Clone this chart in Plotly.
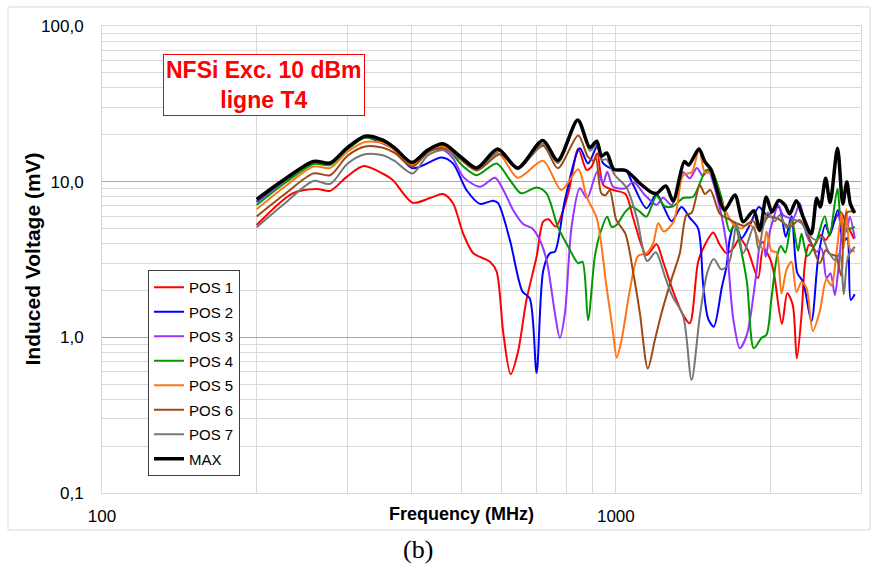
import plotly.graph_objects as go

# Induced voltage (mV) vs frequency (MHz) for seven probe positions and their envelope
freq_pos1 = [200, 235, 262, 278, 299, 323, 353, 368, 402, 435, 461, 482, 505, 528, 569, 586, 604, 624, 645, 670,
             701, 722, 739, 764, 808, 845, 877, 897, 920, 945, 988, 1044, 1081, 1147, 1200, 1236, 1293, 1352, 1393,
             1446, 1490, 1547, 1594, 1642, 1692, 1743, 1806, 1892, 1935, 1994, 2030, 2105, 2156, 2210, 2250, 2298,
             2332, 2374, 2428, 2505, 2562, 2688, 2740, 2790, 2908]
volt_pos1 = [5.27, 8.42, 8.97, 8.73, 10.7, 12.6, 11.2, 10.25, 7.33, 7.85, 8.33, 7.27, 4.6, 3.47, 3.06, 2.65, 1.06,
             0.58, 0.806, 1.74, 3.29, 5.53, 5.74, 5.15, 8.42, 16.3, 11.9, 12.5, 15.2, 9.52, 8.84, 8.33, 5.82, 3.38,
             3.96, 3.06, 1.97, 1.39, 1.23, 3.06, 3.92, 4.71, 3.92, 3.47, 3.73, 4.33, 3.64, 2.40, 3.73, 3.22, 2.6,
             1.22, 1.92, 1.61, 0.73, 1.39, 2.92, 3.92, 3.86, 4.55, 4.22, 5.96, 6.39, 5.68, 4.28]

freq_pos2 = [200, 227, 258, 278, 300, 325, 352, 371, 402, 458, 482, 512, 544, 577, 590, 622, 658, 680, 701, 722,
             744, 761, 796, 851, 883, 920, 945, 996, 1044, 1074, 1147, 1200, 1236, 1284, 1342, 1393, 1446, 1479,
             1512, 1551, 1608, 1642, 1667, 1708, 1756, 1823, 1898, 1971, 2075, 2141, 2197, 2254, 2314, 2403, 2475,
             2556, 2608, 2704, 2769, 2820, 2865, 2917]
volt_pos2 = [7.4, 10.2, 13.3, 13.0, 16.3, 19.3, 17.6, 16.0, 12.2, 14.3, 13.1, 8.84, 7.2, 7.55, 7.27, 4.22, 1.97,
             1.78, 0.59, 2.67, 3.47, 3.55, 7.63, 16.4, 13.1, 16.8, 13.1, 11.9, 11.9, 10.0, 6.75, 8.33, 7.0, 5.57,
             6.87, 5.86, 5.0, 2.17, 1.32, 1.17, 2.1, 2.85, 4.33, 5.45, 4.33, 5.27, 6.87, 6.11, 6.87, 4.42, 6.0, 2.6,
             2.27, 1.27, 3.19, 5.27, 4.55, 6.58, 4.10, 4.35, 1.74, 1.89]

freq_pos3 = [200, 227, 258, 278, 300, 325, 352, 371, 401, 431, 461, 482, 505, 544, 582, 604, 631, 660, 688, 706,
             733, 761, 778, 796, 820, 851, 879, 920, 945, 962, 988, 1044, 1081, 1139, 1200, 1236, 1285, 1352, 1393,
             1438, 1477, 1510, 1594, 1642, 1692, 1743, 1799, 1878, 1906, 1935, 1958, 1994, 2023, 2070, 2116, 2213,
             2280, 2350, 2406, 2460, 2513, 2570, 2616, 2668, 2707, 2734, 2769, 2810, 2853, 2917]
volt_pos3 = [7.5, 10.2, 13.3, 13.0, 16.3, 19.2, 18.0, 16.2, 13.0, 15.8, 16.0, 14.1, 10.7, 9.28, 10.6, 8.84, 6.58,
             5.35, 5.0, 4.44, 3.14, 1.43, 0.99, 1.43, 5.13, 9.07, 7.85, 11.6, 9.77, 11.6, 9.28, 9.07, 10.0, 8.21,
             7.09, 7.87, 7.09, 11.5, 10.5, 12.25, 10.9, 11.9, 6.75, 3.92, 1.32, 0.85, 1.04, 2.62, 3.86, 4.11, 3.29,
             4.78, 5.68, 7.09, 6.11, 5.82, 7.27, 4.55, 3.92, 3.55, 3.73, 2.4, 2.58, 1.87, 2.65, 3.73, 5.27, 4.78,
             5.96, 4.33]

freq_pos4 = [200, 227, 258, 278, 300, 325, 352, 371, 402, 431, 461, 505, 536, 586, 622, 654, 701, 733, 771, 808,
             845, 861, 883, 910, 931, 962, 981, 1003, 1044, 1073, 1113, 1147, 1200, 1245, 1293, 1352, 1414, 1501,
             1544, 1606, 1667, 1705, 1743, 1799, 1856, 1920, 1964, 2007, 2057, 2094, 2137, 2200, 2263, 2298, 2358,
             2450, 2550, 2604, 2700, 2758, 2853, 2917]
volt_pos4 = [7.09, 9.8, 13.0, 12.8, 16.0, 19.2, 18.0, 16.0, 12.8, 15.5, 17.0, 12.5, 11.0, 13.1, 10.25, 8.42, 9.18,
             8.42, 5.13, 3.82, 2.99, 3.06, 1.29, 3.29, 4.6, 5.96, 5.13, 5.27, 6.42, 6.9, 6.42, 5.96, 8.09, 6.95,
             6.95, 7.85, 8.0, 11.9, 11.4, 7.87, 4.78, 5.35, 3.97, 2.27, 0.85, 0.99, 1.04, 1.74, 3.26, 3.86, 3.5,
             5.68, 3.6, 4.62, 3.33, 4.06, 6.0, 4.48, 9.0, 5.2, 4.99, 5.13]

freq_pos5 = [200, 227, 258, 278, 300, 325, 352, 371, 402, 431, 461, 497, 536, 590, 644, 722, 783, 845, 877, 918,
             959, 988, 1004, 1026, 1065, 1105, 1147, 1182, 1209, 1240, 1297, 1352, 1406, 1452, 1490, 1533, 1594,
             1692, 1758, 1806, 1855, 1935, 1964, 2009, 2054, 2101, 2148, 2197, 2247, 2298, 2350, 2417, 2494, 2570,
             2628, 2688, 2748, 2777, 2810, 2860, 2917]
volt_pos5 = [6.65, 9.3, 12.5, 12.25, 15.5, 18.0, 17.7, 16.0, 12.8, 15.5, 16.8, 14.1, 12.2, 15.2, 10.6, 13.6, 8.84,
             12.0, 8.0, 5.82, 2.12, 1.06, 0.74, 0.96, 2.02, 3.33, 3.47, 4.02, 5.41, 4.78, 5.57, 11.0, 11.5, 16.3,
             11.5, 11.3, 7.87, 5.35, 5.0, 5.41, 5.0, 3.64, 4.78, 3.6, 3.52, 1.92, 2.71, 3.06, 1.95, 2.27, 2.07, 1.1,
             1.47, 2.36, 2.15, 3.49, 6.29, 3.73, 6.64, 3.64, 3.56]

freq_pos6 = [200, 227, 258, 278, 300, 325, 352, 371, 402, 431, 461, 497, 536, 595, 644, 722, 771, 845, 882, 906,
             915, 937, 956, 973, 1002, 1044, 1081, 1113, 1154, 1191, 1227, 1282, 1332, 1372, 1404, 1457, 1490, 1527,
             1594, 1654, 1717, 1782, 1848, 1906, 1976, 2066, 2180, 2280, 2403, 2494, 2562, 2608, 2679, 2746, 2810,
             2917]
volt_pos6 = [5.98, 8.33, 11.3, 11.0, 14.6, 16.8, 16.5, 15.3, 12.5, 15.5, 16.4, 14.0, 11.8, 15.0, 12.25, 17.0, 12.2,
             19.8, 14.5, 13.6, 14.2, 8.42, 8.21, 8.84, 5.68, 4.62, 2.6, 1.45, 0.63, 0.96, 1.43, 2.34, 3.47, 6.11,
             6.29, 9.52, 8.33, 8.84, 6.21, 5.77, 5.41, 5.2, 5.6, 4.78, 5.93, 5.8, 5.13, 5.68, 4.02, 2.99, 3.64, 3.43,
             3.33, 2.48, 6.29, 6.45]

freq_pos7 = [200, 227, 258, 278, 300, 325, 352, 371, 402, 431, 461, 497, 536, 595, 644, 722, 771, 843, 890, 918,
             938, 959, 996, 1049, 1097, 1151, 1196, 1245, 1285, 1352, 1404, 1457, 1507, 1551, 1605, 1654, 1692, 1717,
             1770, 1855, 1896, 1935, 1976, 2039, 2085, 2151, 2213, 2298, 2366, 2457, 2513, 2588, 2668, 2728, 2777,
             2831, 2917]
volt_pos7 = [5.1, 7.27, 10.1, 9.68, 13.0, 15.0, 14.8, 13.6, 11.3, 14.8, 16.0, 14.3, 12.0, 15.8, 12.0, 17.5, 13.2,
             24.5, 15.8, 17.2, 13.8, 13.9, 11.0, 9.18, 5.96, 3.09, 3.52, 2.48, 1.87, 1.37, 0.533, 1.37, 2.62, 3.19,
             2.73, 2.92, 4.02, 5.41, 3.47, 5.13, 3.64, 5.13, 6.33, 5.57, 6.11, 5.06, 5.68, 5.41, 4.6, 4.22, 4.44,
             3.6, 3.14, 3.47, 1.89, 3.3, 3.82]

freq_max = [200, 227, 258, 278, 300, 325, 352, 371, 401, 431, 461, 497, 536, 589, 644, 721, 771, 843, 890, 918,
            938, 960, 991, 1046, 1113, 1176, 1202, 1251, 1293, 1359, 1386, 1451, 1490, 1533, 1570, 1628, 1705, 1770,
            1855, 1906, 1962, 2012, 2075, 2132, 2180, 2245, 2315, 2400, 2460, 2500, 2560, 2612, 2700, 2765, 2815,
            2860, 2917]
volt_max = [7.7, 10.4, 13.5, 13.2, 16.5, 19.6, 18.5, 16.5, 13.3, 16.0, 17.5, 14.6, 12.25, 16.2, 12.25, 18.4, 13.7,
            24.9, 16.6, 18.2, 14.6, 15.3, 12.0, 11.8, 9.77, 8.5, 8.42, 9.38, 7.52, 13.45, 12.8, 16.2, 13.45, 11.9,
            9.07, 6.58, 8.21, 5.53, 6.51, 4.9, 7.97, 6.39, 7.57, 7.09, 6.21, 7.54, 5.93, 4.62, 7.82, 6.87, 10.5,
            7.35, 16.4, 7.2, 9.95, 7.2, 6.29]

series_names = ["POS 1", "POS 2", "POS 3", "POS 4", "POS 5", "POS 6", "POS 7", "MAX"]
series_freqs = [freq_pos1, freq_pos2, freq_pos3, freq_pos4, freq_pos5, freq_pos6, freq_pos7, freq_max]
series_volts = [volt_pos1, volt_pos2, volt_pos3, volt_pos4, volt_pos5, volt_pos6, volt_pos7, volt_max]
series_colors = ["#ff0000", "#0000ff", "#9933ff", "#009900", "#ff7518", "#9c4a14", "#767676", "#000000"]
series_widths = [2, 2, 2, 2, 2, 2, 2, 3.5]

x_ticks = [100, 1000]
x_ticklabels = ["100", "1000"]
x_minor = [200, 300, 400, 500, 600, 700, 800, 900, 2000, 3000]
y_ticks = [0.1, 1, 10, 100]
y_ticklabels = ["0,1", "1,0", "10,0", "100,0"]
y_minor = [m * d for d in (0.1, 1, 10) for m in range(2, 10)]

SANS = "Liberation Sans, Arial, sans-serif"

fig = go.Figure()
for name, fx, vy, col, w in zip(series_names, series_freqs, series_volts, series_colors, series_widths):
    fig.add_trace(go.Scatter(
        x=fx, y=vy, name=name, mode="lines", legendgroup=name,
        line=dict(color=col, width=w, shape="spline", smoothing=0.8),
    ))

fig.update_layout(
    width=878, height=566,
    margin=dict(l=102, r=17, t=26, b=73),
    paper_bgcolor="white", plot_bgcolor="white",
    font=dict(family=SANS, color="#000000"),
    showlegend=True,
    legend=dict(
        x=0.0606, y=0.4775, xanchor="left", yanchor="top",
        bgcolor="white", bordercolor="#404040", borderwidth=1,
        font=dict(size=15, family=SANS, color="#000000"),
        tracegroupgap=2, itemwidth=30,
    ),
)

fig.update_xaxes(
    type="log", range=[2, 3.4771],
    tickvals=x_ticks, ticktext=x_ticklabels, ticks="",
    tickfont=dict(size=17, family=SANS), ticklabelstandoff=8,
    showgrid=True, gridcolor="#d9d9d9", gridwidth=1,
    minor=dict(tickvals=x_minor, showgrid=True, gridcolor="#d9d9d9", gridwidth=1, ticks=""),
    showline=True, linecolor="#d9d9d9", linewidth=1, mirror=True, zeroline=False,
)
fig.update_yaxes(
    type="log", range=[-1, 2],
    tickvals=y_ticks, ticktext=y_ticklabels, ticks="",
    tickfont=dict(size=17, family=SANS), ticklabelstandoff=14,
    showgrid=True, gridcolor="#a6a6a6", gridwidth=1,
    minor=dict(tickvals=y_minor, showgrid=True, gridcolor="#d9d9d9", gridwidth=1, ticks=""),
    showline=True, linecolor="#d9d9d9", linewidth=1, mirror=True, zeroline=False,
)

# Chart-area frame
fig.add_shape(type="rect", xref="paper", yref="paper",
              x0=-0.1238, x1=1.0119, y0=-0.0792, y1=1.0407,
              line=dict(color="#d9d9d9", width=1), fillcolor="rgba(0,0,0,0)", layer="below")

# Boxed caption inside the plot
fig.add_annotation(
    text="<b>NFSi Exc. 10 dBm<br>ligne T4</b>", xref="paper", yref="paper",
    x=0.2134, y=0.8726, xanchor="center", yanchor="middle", showarrow=False,
    font=dict(size=23, color="#ff0000", family=SANS), align="center",
    bgcolor="white", bordercolor="#ff0000", borderwidth=1, borderpad=2,
)

# Axis titles
fig.add_annotation(
    text="<b>Induced Voltage (mV)</b>", xref="paper", yref="paper",
    x=-0.0922, y=0.5, xanchor="center", yanchor="middle", textangle=-90, showarrow=False,
    font=dict(size=21, family=SANS, color="#000000"),
)
fig.add_annotation(
    text="<b>Frequency (MHz)</b>", xref="paper", yref="paper",
    x=0.4743, y=-0.045, xanchor="center", yanchor="middle", showarrow=False,
    font=dict(size=18, family=SANS, color="#000000"),
)

# Panel label
fig.add_annotation(
    text="(b)", xref="paper", yref="paper",
    x=0.4163, y=-0.12, xanchor="center", yanchor="middle", showarrow=False,
    font=dict(size=26, family="Liberation Serif, Times New Roman, serif", color="#000000"),
)

fig.write_html("out.html")
